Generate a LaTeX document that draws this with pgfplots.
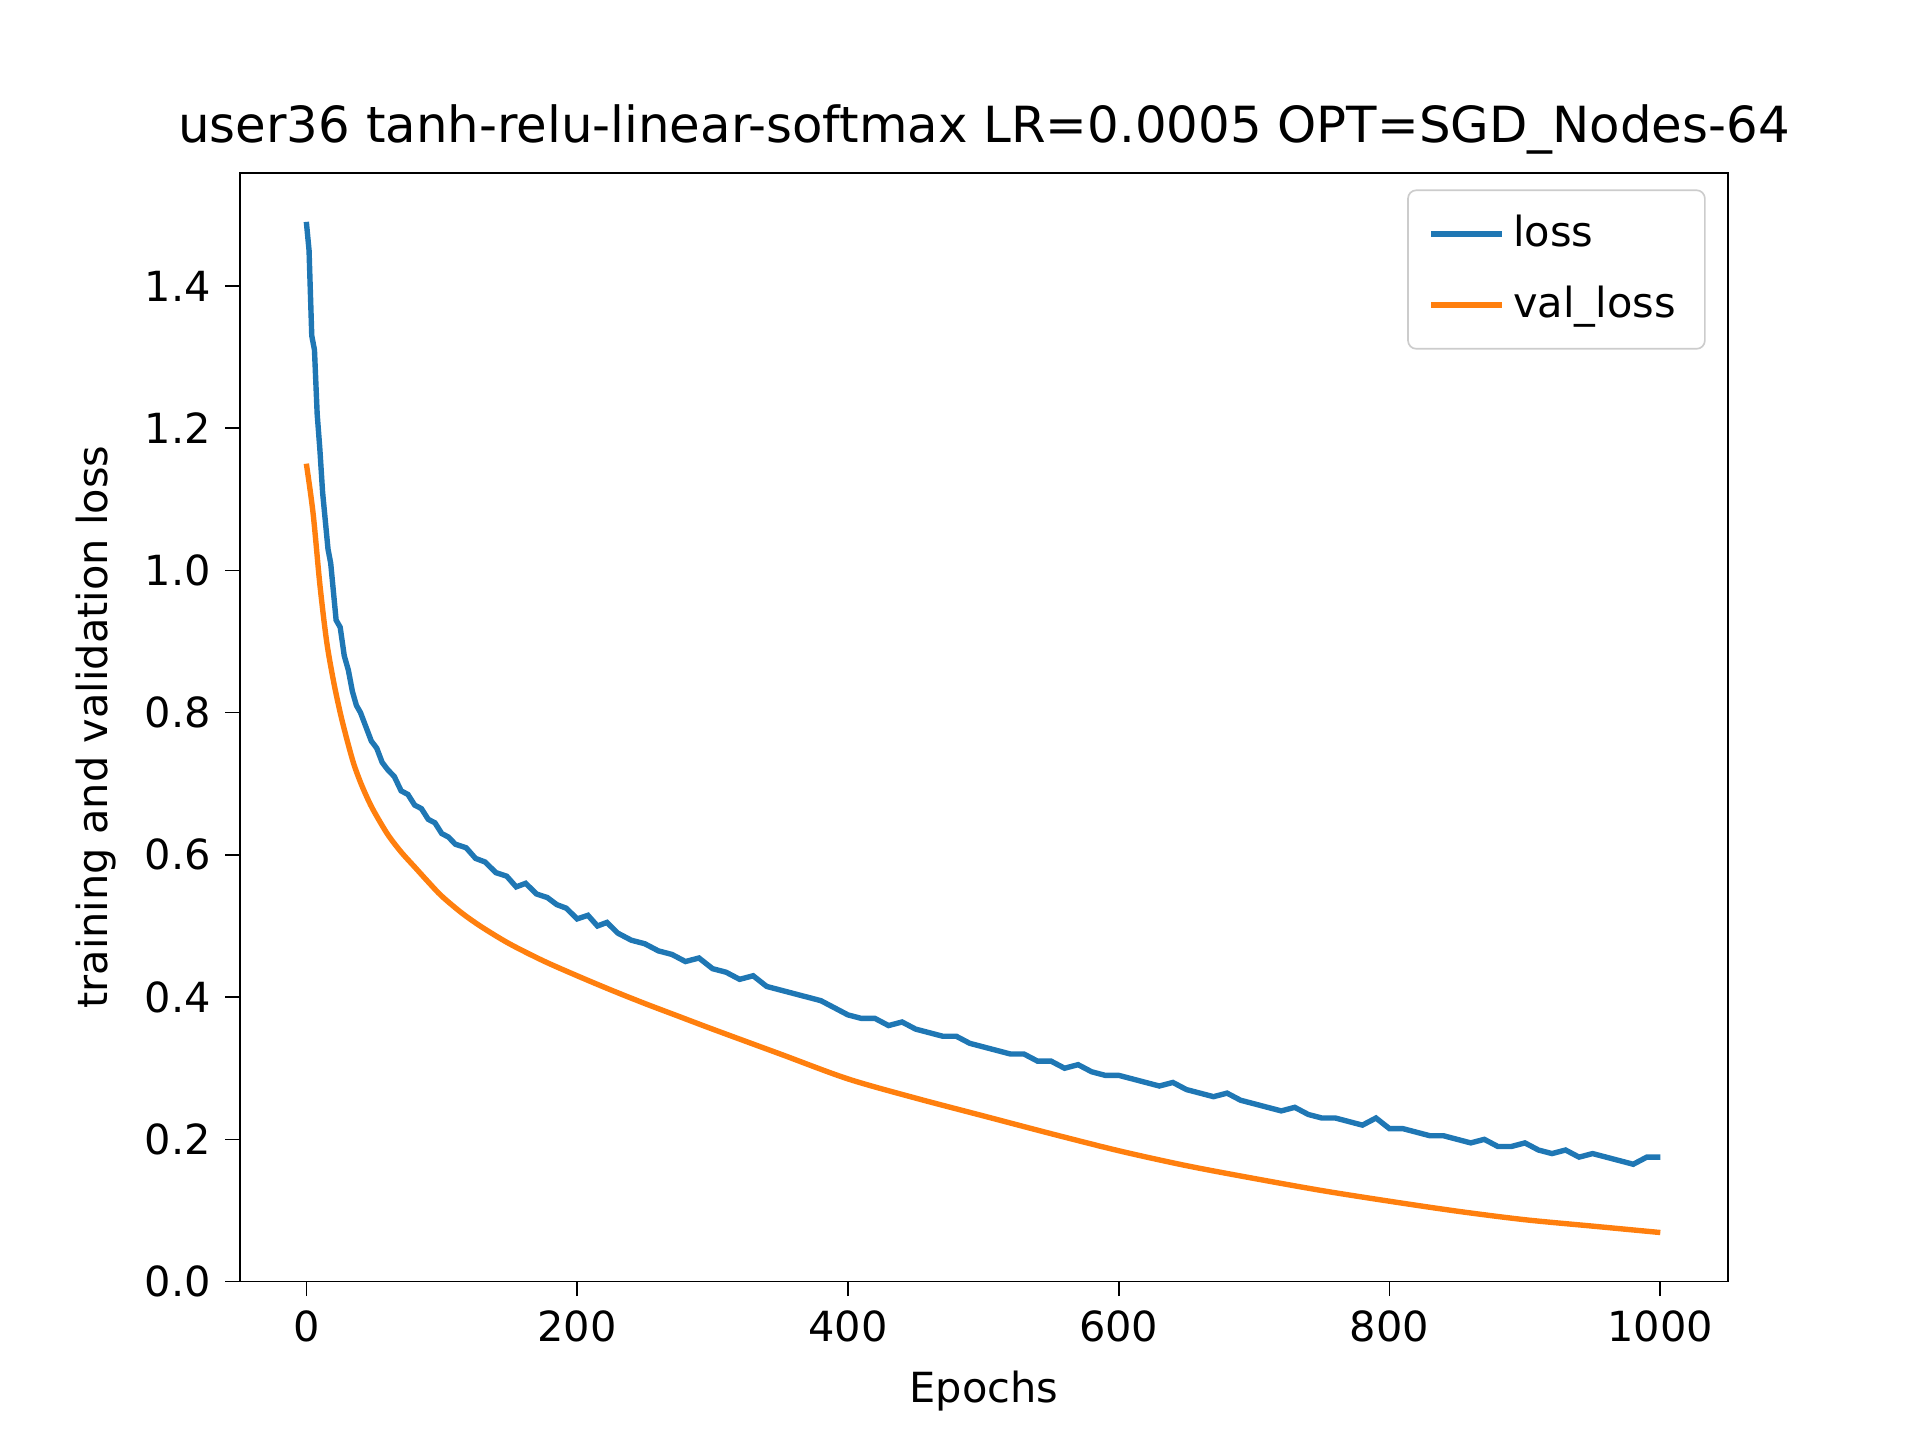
\documentclass[border=0pt]{standalone}
\usepackage{pgfplots}
\pgfplotsset{compat=1.18}
\usepackage{fontspec}
\setmainfont{DejaVu Sans}
\definecolor{mblue}{HTML}{1F77B4}
\definecolor{morange}{HTML}{FF7F0E}
\begin{document}
\fontsize{10pt}{12pt}\selectfont
\begin{tikzpicture}
\useasboundingbox (0,0) rectangle (6.4in,4.8in);
\begin{axis}[at={(0.8in,0.528in)},anchor=south west,
scale only axis,width=4.96in,height=3.696in,
xmin=-49,xmax=1050,ymin=0,ymax=1.559,
xtick={0,200,...,1000},ytick={0,0.2,...,1.4},
xticklabel style={/pgf/number format/.cd,set thousands separator={}},
yticklabel style={/pgf/number format/.cd,fixed,fixed zerofill,precision=1},
/pgf/number format/assume math mode=true,
tick pos=left,
tick align=outside,tick style={black,thin},major tick length=3.5pt,
xlabel={Epochs},ylabel={training and validation loss},
title={\fontsize{12pt}{14pt}\selectfont user36 tanh-relu-linear-softmax LR=0.0005 OPT=SGD\_Nodes-64},
title style={yshift=-5pt},
legend pos=north east,legend cell align=left,
legend style={draw=black!20,rounded corners=2pt,font=\fontsize{10pt}{12pt}\selectfont,
  at={(0.985,0.985)},anchor=north east,inner xsep=5pt,inner ysep=4pt,
  row sep=4pt,nodes={inner sep=2pt}},
legend image code/.code={\draw[#1,line width=1.3pt] (0cm,0cm) -- (0.6cm,0cm);},
]
\addplot[mblue,line width=1.3pt] coordinates {
(0,1.49)(2,1.45)(4,1.33)(6,1.31)(8,1.22)(10,1.17)(12,1.11)(14,1.07)(16,1.03)(18,1.01)(20,0.97)(22,0.93)(25,0.92)(28,0.88)(31,0.86)(34,0.83)(37,0.81)(40,0.80)(44,0.78)(48,0.76)(52,0.75)(56,0.73)(60,0.72)(65,0.71)(70,0.69)(75,0.685)(80,0.67)(85,0.665)(90,0.65)(95,0.645)(100,0.63)(105,0.625)(110,0.615)(118,0.61)(125,0.595)(132,0.59)(140,0.575)(148,0.57)(155,0.555)(162,0.56)(170,0.545)(178,0.54)(185,0.53)(192,0.525)(200,0.51)(208,0.515)(215,0.50)(222,0.505)(230,0.49)(240,0.48)(250,0.475)(260,0.465)(270,0.46)(280,0.45)(290,0.455)(300,0.44)(310,0.435)(320,0.425)(330,0.43)(340,0.415)(350,0.41)(360,0.405)(370,0.40)(380,0.395)(390,0.385)(400,0.375)(410,0.37)(420,0.37)(430,0.36)(440,0.365)(450,0.355)(460,0.35)(470,0.345)(480,0.345)(490,0.335)(500,0.33)(510,0.325)(520,0.32)(530,0.32)(540,0.31)(550,0.31)(560,0.30)(570,0.305)(580,0.295)(590,0.29)(600,0.29)(610,0.285)(620,0.28)(630,0.275)(640,0.28)(650,0.27)(660,0.265)(670,0.26)(680,0.265)(690,0.255)(700,0.25)(710,0.245)(720,0.24)(730,0.245)(740,0.235)(750,0.23)(760,0.23)(770,0.225)(780,0.22)(790,0.23)(800,0.215)(810,0.215)(820,0.21)(830,0.205)(840,0.205)(850,0.20)(860,0.195)(870,0.20)(880,0.19)(890,0.19)(900,0.195)(910,0.185)(920,0.18)(930,0.185)(940,0.175)(950,0.18)(960,0.175)(970,0.17)(980,0.165)(990,0.175)(1000,0.175)};
\addlegendentry{loss}
\addplot[morange,line width=1.3pt,smooth,tension=0.5] coordinates {
(0,1.15)(5,1.08)(10,0.98)(15,0.9)(20,0.845)(25,0.8)(30,0.762)(35,0.728)(40,0.702)(45,0.68)(50,0.661)(60,0.629)(70,0.604)(80,0.583)(90,0.562)(100,0.542)(115,0.518)(130,0.498)(150,0.475)(175,0.451)(200,0.430)(225,0.410)(250,0.391)(275,0.373)(300,0.355)(350,0.320)(400,0.285)(450,0.258)(500,0.233)(550,0.208)(600,0.184)(650,0.163)(700,0.145)(750,0.128)(800,0.113)(850,0.099)(900,0.087)(950,0.078)(1000,0.069)};
\addlegendentry{val\_loss}
\end{axis}
\end{tikzpicture}
\end{document}
